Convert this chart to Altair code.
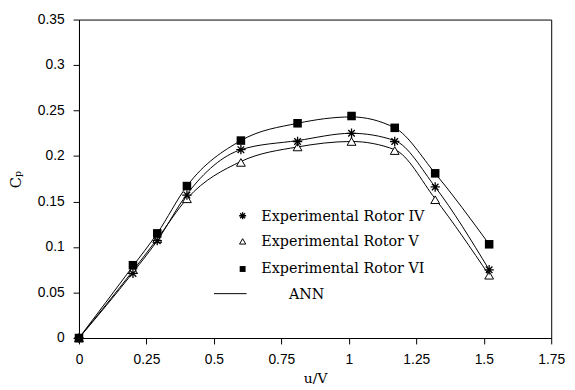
import altair as alt
import pandas as pd

u_over_v = [0, 0.2, 0.29, 0.4, 0.6, 0.81, 1.01, 1.17, 1.32, 1.52]
cp_rotor_iv = [0, 0.071, 0.107, 0.157, 0.207, 0.216, 0.225, 0.216, 0.166, 0.075]
cp_rotor_v = [0, 0.075, 0.109, 0.153, 0.193, 0.210, 0.216, 0.206, 0.152, 0.069]
cp_rotor_vi = [0, 0.080, 0.115, 0.167, 0.217, 0.236, 0.244, 0.231, 0.181, 0.103]

ann_iv = [0, 0.072, 0.107, 0.158, 0.207, 0.217, 0.225, 0.217, 0.166, 0.075]
ann_v = [0, 0.074, 0.109, 0.153, 0.194, 0.210, 0.216, 0.207, 0.153, 0.069]
ann_vi = [0, 0.079, 0.115, 0.167, 0.217, 0.236, 0.243, 0.231, 0.181, 0.103]

x_ticks = [0, 0.25, 0.5, 0.75, 1, 1.25, 1.5, 1.75]
y_ticks = [0, 0.05, 0.1, 0.15, 0.2, 0.25, 0.3, 0.35]

legend_labels = ["Experimental Rotor IV", "Experimental Rotor V", "Experimental Rotor VI", "ANN"]

STAR = "M-1,0L1,0M0,-1L0,1M-0.7,-0.7L0.7,0.7M-0.7,0.7L0.7,-0.7"
SERIF = "DejaVu Serif"
SANS = "Liberation Sans"

exp_df = pd.DataFrame({"u": u_over_v, "iv": cp_rotor_iv, "v": cp_rotor_v, "vi": cp_rotor_vi})
ann_df = pd.concat([
    pd.DataFrame({"u": u_over_v, "cp": ann_iv, "s": "IV"}),
    pd.DataFrame({"u": u_over_v, "cp": ann_v, "s": "V"}),
    pd.DataFrame({"u": u_over_v, "cp": ann_vi, "s": "VI"}),
])

xs = alt.Scale(domain=[0, 1.75], nice=False, zero=False)
ys = alt.Scale(domain=[0, 0.35], nice=False)

xaxis = alt.Axis(values=x_ticks, format=".2~f", title="u/V", grid=False, labelFlush=False,
                 titleFont=SERIF, titleFontSize=14, titleFontWeight="normal",
                 titleY=34, titleBaseline="top")
yaxis = alt.Axis(values=y_ticks, format=".2~f", title="Cₚ", grid=False, labelFlush=False,
                 titleFont=SERIF, titleFontSize=15, titleFontWeight="normal",
                 titleX=-56, titleY=162)


def X(field="u"):
    return alt.X(f"{field}:Q", scale=xs, axis=xaxis, title="u/V")


def Y(field):
    return alt.Y(f"{field}:Q", scale=ys, axis=yaxis, title="Cₚ")


lines = alt.Chart(ann_df).mark_line(interpolate="monotone", color="black", strokeWidth=1).encode(
    x=X(), y=Y("cp"), detail="s:N",
)

base = alt.Chart(exp_df)
pts_vi = base.mark_point(shape="square", filled=True, color="black", size=75, opacity=1).encode(
    x=X(), y=Y("vi"))
pts_v = base.mark_point(shape="triangle-up", filled=True, fill="white", stroke="black",
                        strokeWidth=1, size=80, opacity=1).encode(
    x=X(), y=Y("v"))
pts_iv = base.mark_point(shape=STAR, filled=False, color="black", strokeWidth=1.3, size=90, opacity=1).encode(
    x=X(), y=Y("iv"))


def legend_text(label, x, y):
    return alt.Chart(pd.DataFrame({"t": [label]})).mark_text(
        font=SERIF, fontSize=14.5, align="left", baseline="alphabetic", color="black"
    ).encode(text="t:N", x=alt.value(x), y=alt.value(y))


def legend_marker(shape, y, **kw):
    return alt.Chart(pd.DataFrame({"t": ["m"]})).mark_point(shape=shape, opacity=1, **kw).encode(
        x=alt.value(166), y=alt.value(y))


leg = [
    legend_marker(STAR, 199, filled=False, color="black", strokeWidth=1.3, size=50),
    legend_text(legend_labels[0], 185, 204),
    legend_marker("triangle-up", 225, filled=True, fill="white", stroke="black", strokeWidth=1, size=40),
    legend_text(legend_labels[1], 185, 230),
    legend_marker("square", 253, filled=True, color="black", size=36),
    legend_text(legend_labels[2], 185, 257),
    alt.Chart(pd.DataFrame({"t": ["l"]})).mark_rule(color="black", strokeWidth=1).encode(
        x=alt.value(137), x2=alt.value(170), y=alt.value(278)),
    legend_text(legend_labels[3], 213, 283),
]

chart = alt.layer(lines, pts_v, pts_iv, pts_vi, *leg).properties(
    width=479, height=323,
    padding={"left": 72, "top": 9, "right": 16, "bottom": 50},
    autosize=alt.AutoSizeParams(type="none"),
    background="white",
).configure_view(stroke="black", strokeWidth=1).configure_axis(
    domainColor="black", tickColor="black", tickSize=6, labelPadding=9,
    labelFont=SANS, labelFontSize=14, labelColor="black", titleColor="black",
)

chart.save("out.html", embed_options={"renderer": "svg", "actions": False})
